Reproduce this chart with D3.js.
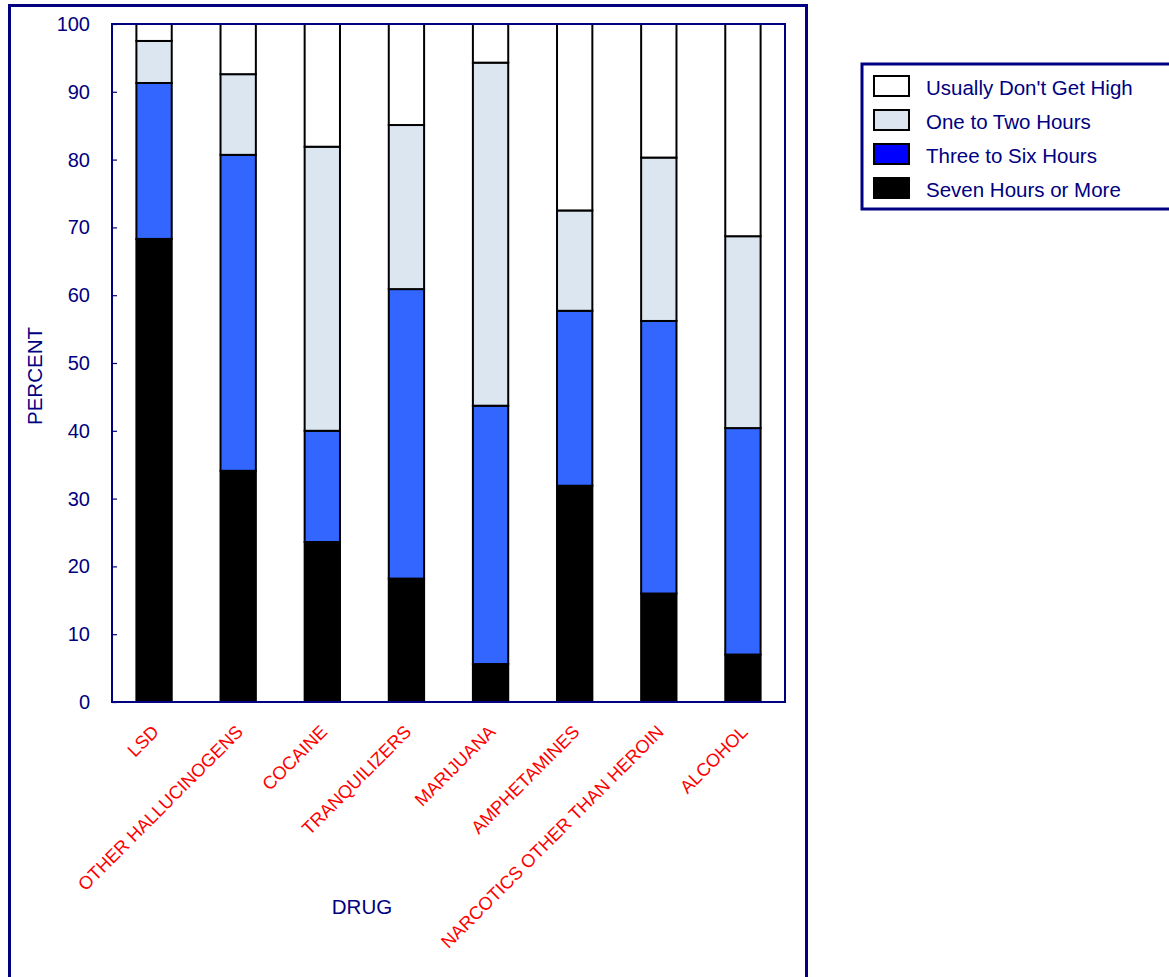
<!DOCTYPE html>
<html>
<head>
<meta charset="utf-8">
<script src="https://cdn.jsdelivr.net/npm/d3@7"></script>
<style>
  html, body { margin: 0; padding: 0; background: #fff; }
  svg { display: block; font-family: "Liberation Sans", Arial, sans-serif; }
</style>
</head>
<body>
<svg id="chart" width="1169" height="977"></svg>
<script>
// ---- data ----
const categories = ["LSD", "OTHER HALLUCINOGENS", "COCAINE", "TRANQUILIZERS", "MARIJUANA", "AMPHETAMINES", "NARCOTICS OTHER THAN HEROIN", "ALCOHOL"];
const sevenHoursOrMore = [68.3, 34.1, 23.6, 18.2, 5.6, 31.9, 16.0, 7.0];
const threeToSixHours  = [23.0, 46.6, 16.4, 42.7, 38.1, 25.8, 40.2, 33.4];
const oneToTwoHours    = [6.2, 11.9, 41.9, 24.2, 50.6, 14.8, 24.1, 28.3];
const usuallyDontGetHigh = [2.5, 7.4, 18.1, 14.9, 5.7, 27.5, 19.7, 31.3];
const seriesNames = ["Seven Hours or More", "Three to Six Hours", "One to Two Hours", "Usually Don't Get High"];
const yTicks = [0, 10, 20, 30, 40, 50, 60, 70, 80, 90, 100];

// ---- layout ----
const svg = d3.select("#chart");
const navy = "#000080";
const plotLeft = 112, plotRight = 785, plotTop = 24, plotBottom = 702;
const barColors = ["#000000", "#3366FF", "#DCE6F1", "#FFFFFF"];
const legendColors = ["#000000", "#0000FF", "#DCE6F1", "#FFFFFF"];

// outer frame
svg.append("rect").attr("x", 9.5).attr("y", 5.5).attr("width", 797).attr("height", 1000)
  .attr("fill", "none").attr("stroke", navy).attr("stroke-width", 3);

const x = d3.scaleBand().domain(categories).range([plotLeft, plotRight]).paddingInner(0.58).paddingOuter(0.29);
const y = d3.scaleLinear().domain([0, 100]).range([plotBottom, plotTop]);

const rows = categories.map((c, i) => ({
  cat: c,
  [seriesNames[0]]: sevenHoursOrMore[i],
  [seriesNames[1]]: threeToSixHours[i],
  [seriesNames[2]]: oneToTwoHours[i],
  [seriesNames[3]]: usuallyDontGetHigh[i]
}));
const stacked = d3.stack().keys(seriesNames)(rows);

// bars
stacked.forEach((layer, li) => {
  svg.append("g").selectAll("rect").data(layer).join("rect")
    .attr("x", d => x(d.data.cat))
    .attr("width", x.bandwidth())
    .attr("y", d => y(Math.min(d[1], 100)))
    .attr("height", d => y(d[0]) - y(Math.min(d[1], 100)))
    .attr("fill", barColors[li])
    .attr("stroke", "#000")
    .attr("stroke-width", 2);
});

// plot frame
svg.append("rect").attr("x", plotLeft).attr("y", plotTop).attr("width", plotRight - plotLeft).attr("height", plotBottom - plotTop)
  .attr("fill", "none").attr("stroke", navy).attr("stroke-width", 2);

// y axis
const yAxis = d3.axisLeft(y).tickValues(yTicks).tickSize(-5).tickPadding(22).tickFormat(d3.format("d"));
const gy = svg.append("g").attr("transform", `translate(${plotLeft},0)`).call(yAxis);
gy.select(".domain").remove();
gy.selectAll(".tick line").attr("stroke", navy).attr("stroke-width", 1.2);
gy.selectAll(".tick text").attr("fill", navy).attr("font-size", 20).attr("font-family", "Liberation Sans, Arial, sans-serif");

// x category labels
const xAxis = d3.axisBottom(x).tickSize(0).tickPadding(0);
const gx = svg.append("g").attr("transform", `translate(0,${plotBottom})`).call(xAxis);
gx.select(".domain").remove();
gx.selectAll(".tick text")
  .attr("fill", "#FF0000")
  .attr("font-size", 18.2)
  .attr("font-family", "Liberation Sans, Arial, sans-serif")
  .attr("text-anchor", "end")
  .attr("dy", 0)
  .attr("transform", "translate(6,31) rotate(-45)");

// axis titles
svg.append("text").attr("transform", "translate(42,376) rotate(-90)")
  .attr("text-anchor", "middle").attr("fill", navy).attr("font-size", 20.5).text("PERCENT");
svg.append("text").attr("x", 362).attr("y", 914)
  .attr("text-anchor", "middle").attr("fill", navy).attr("font-size", 20.5).text("DRUG");

// legend
const lg = svg.append("g");
lg.append("rect").attr("x", 862).attr("y", 64).attr("width", 320).attr("height", 145)
  .attr("fill", "#fff").attr("stroke", navy).attr("stroke-width", 3);
const legendOrder = [3, 2, 1, 0];
legendOrder.forEach((si, r) => {
  const yy = 76 + r * 34;
  lg.append("rect").attr("x", 874).attr("y", yy).attr("width", 35).attr("height", 20)
    .attr("fill", legendColors[si]).attr("stroke", "#000").attr("stroke-width", 2);
  lg.append("text").attr("x", 926).attr("y", yy + 19).attr("fill", navy).attr("font-size", 20.5)
    .text(seriesNames[si]);
});
</script>
</body>
</html>
